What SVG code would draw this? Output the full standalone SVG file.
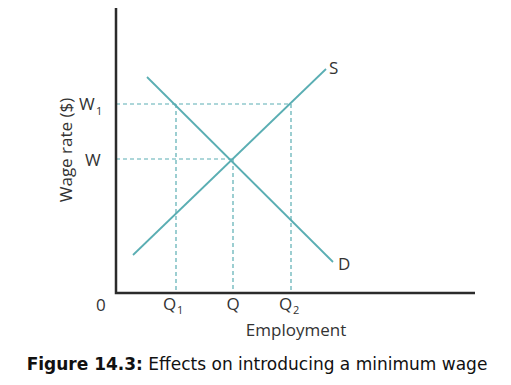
<svg xmlns="http://www.w3.org/2000/svg" width="511" height="385" viewBox="0 0 511 385">
<style>
.ax{stroke:#2b2b2b;stroke-width:2.5;fill:none}
.cv{stroke:#5aaeb3;stroke-width:1.8;fill:none}
.dash{stroke:#5aaeb3;stroke-width:1.2;stroke-dasharray:4 3;fill:none}
.lb{font-family:"Open Sans","Liberation Sans",sans-serif;font-size:17px;fill:#333}
.sub{font-family:"Open Sans","Liberation Sans",sans-serif;font-size:11px;fill:#333}
.cap{font-family:"DejaVu Sans",Verdana,sans-serif;font-size:17px;fill:#111}
</style>
<rect width="511" height="385" fill="#fff"/>
<g id="connectors">
<path class="dash" d="M116 104H291M116 159H233M176 104V292M233 159V292M291 104V292"/>
<path class="cv" d="M133 255L326 69"/>
<path class="cv" d="M147 77L333 262"/>
</g>
<g id="axes">
<path class="ax" d="M116 8V293H475"/>
</g>
<g id="labels">
<text class="lb" x="65" y="150" text-anchor="middle" transform="rotate(-90 65 150)" dominant-baseline="central">Wage rate ($)</text>
<text class="lb" x="79" y="110">W</text><text class="sub" x="96" y="115">1</text>
<text class="lb" x="85" y="166">W</text>
<text class="lb" x="96" y="311">0</text>
<text class="lb" x="163" y="310">Q</text><text class="sub" x="177" y="314">1</text>
<text class="lb" x="233" y="310" text-anchor="middle">Q</text>
<text class="lb" x="279" y="310">Q</text><text class="sub" x="293" y="314">2</text>
<text class="lb" x="296" y="336" text-anchor="middle">Employment</text>
<text class="lb" x="329" y="74">S</text>
<text class="lb" x="338" y="270">D</text>
<text class="cap" x="257" y="370" text-anchor="middle"><tspan font-weight="bold">Figure 14.3:</tspan> Effects on introducing a minimum wage</text>
</g>
</svg>
